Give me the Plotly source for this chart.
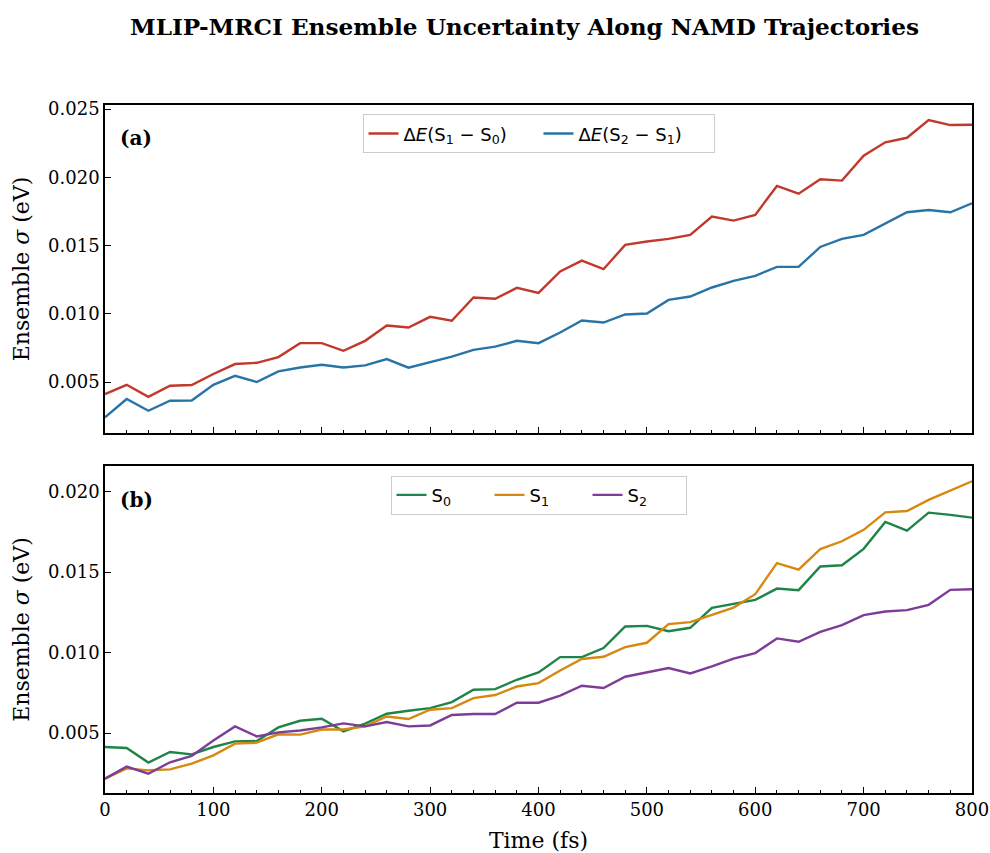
import plotly.graph_objects as go

time_fs = list(range(0, 801, 20))

dE_S1_S0 = [0.00412, 0.00480, 0.00392, 0.00473, 0.00478, 0.00559, 0.00632, 0.00641, 0.00683, 0.00785,
            0.00785, 0.00729, 0.00802, 0.00914, 0.00900, 0.00978, 0.00949, 0.01120, 0.01110, 0.01190,
            0.01153, 0.01310, 0.01390, 0.01327, 0.01505, 0.01530, 0.01549, 0.01578, 0.01712, 0.01683,
            0.01725, 0.01937, 0.01880, 0.01986, 0.01976, 0.02159, 0.02257, 0.02290, 0.02420, 0.02383,
            0.02385]
dE_S2_S1 = [0.00241, 0.00376, 0.00290, 0.00363, 0.00365, 0.00480, 0.00546, 0.00500, 0.00578, 0.00607,
            0.00627, 0.00607, 0.00622, 0.00668, 0.00605, 0.00646, 0.00687, 0.00736, 0.00760, 0.00802,
            0.00785, 0.00863, 0.00951, 0.00936, 0.00995, 0.01002, 0.01102, 0.01127, 0.01193, 0.01242,
            0.01278, 0.01344, 0.01344, 0.01490, 0.01549, 0.01578, 0.01664, 0.01744, 0.01761, 0.01744,
            0.01810]
S0 = [0.00413, 0.00407, 0.00316, 0.00382, 0.00367, 0.00413, 0.00448, 0.00450, 0.00535, 0.00576,
      0.00589, 0.00510, 0.00558, 0.00620, 0.00638, 0.00655, 0.00692, 0.00769, 0.00773, 0.00831,
      0.00877, 0.00972, 0.00972, 0.01028, 0.01162, 0.01166, 0.01133, 0.01154, 0.01278, 0.01303,
      0.01328, 0.01398, 0.01388, 0.01535, 0.01543, 0.01645, 0.01812, 0.01758, 0.01870, 0.01856,
      0.01839]
S1 = [0.00216, 0.00280, 0.00268, 0.00274, 0.00309, 0.00361, 0.00434, 0.00440, 0.00492, 0.00490,
      0.00522, 0.00522, 0.00541, 0.00603, 0.00587, 0.00645, 0.00655, 0.00717, 0.00736, 0.00789,
      0.00810, 0.00889, 0.00960, 0.00974, 0.01034, 0.01061, 0.01177, 0.01189, 0.01235, 0.01280,
      0.01363, 0.01556, 0.01516, 0.01643, 0.01692, 0.01763, 0.01872, 0.01880, 0.01949, 0.02007,
      0.02065]
S2 = [0.00216, 0.00291, 0.00247, 0.00318, 0.00357, 0.00454, 0.00541, 0.00479, 0.00504, 0.00516,
      0.00535, 0.00560, 0.00541, 0.00568, 0.00541, 0.00547, 0.00612, 0.00618, 0.00618, 0.00688,
      0.00688, 0.00732, 0.00794, 0.00780, 0.00850, 0.00876, 0.00904, 0.00870, 0.00914, 0.00963,
      0.00997, 0.01088, 0.01067, 0.01129, 0.01171, 0.01233, 0.01255, 0.01264, 0.01297, 0.01390,
      0.01394]

names_a = ["Δ<i>E</i>(S<sub>1</sub> − S<sub>0</sub>)", "Δ<i>E</i>(S<sub>2</sub> − S<sub>1</sub>)"]
names_b = ["S<sub>0</sub>", "S<sub>1</sub>", "S<sub>2</sub>"]
colors_a = ["#c0392b", "#2874a6"]
colors_b = ["#1e8449", "#d68910", "#7d3c98"]

SERIF = "DejaVu Serif"
SANS = "DejaVu Sans"

fig = go.Figure()
for ys, nm, c in zip([dE_S1_S0, dE_S2_S1], names_a, colors_a):
    fig.add_trace(go.Scatter(x=time_fs, y=ys, mode="lines", name=nm,
                             line=dict(color=c, width=2.4), xaxis="x", yaxis="y", legend="legend"))
for ys, nm, c in zip([S0, S1, S2], names_b, colors_b):
    fig.add_trace(go.Scatter(x=time_fs, y=ys, mode="lines", name=nm,
                             line=dict(color=c, width=2.4), xaxis="x2", yaxis="y2", legend="legend2"))

common_x = dict(range=[0, 800], dtick=100, tick0=0, ticks="inside", ticklen=6, tickwidth=1.3,
                tickcolor="black", showline=True, linecolor="black", linewidth=1.6, mirror=True,
                showgrid=False, zeroline=False, automargin=False,
                minor=dict(dtick=20, ticks="inside", ticklen=3.5, tickwidth=1, tickcolor="black"),
                tickfont=dict(family=SERIF, size=18, color="black"))
common_y = dict(dtick=0.005, tick0=0, tickformat=".3f", ticks="inside", ticklen=6, tickwidth=1.3,
                tickcolor="black", showline=True, linecolor="black", linewidth=1.6, mirror=True,
                showgrid=False, zeroline=False, automargin=False,
                tickfont=dict(family=SERIF, size=18, color="black"),
                title=dict(text="Ensemble <i>σ</i> (eV)", font=dict(family=SERIF, size=22, color="black"),
                           standoff=12))

legend_common = dict(x=0.5, xanchor="center", yanchor="top", orientation="h",
                     bgcolor="white", bordercolor="#cccccc", borderwidth=1,
                     font=dict(family=SANS, size=18, color="black"))

fig.update_layout(
    width=990, height=853,
    margin=dict(l=105, r=18, t=105, b=60),
    paper_bgcolor="white", plot_bgcolor="white",
    title=dict(text="<b>MLIP-MRCI Ensemble Uncertainty Along NAMD Trajectories</b>",
               font=dict(family=SERIF, size=23.2, color="black"),
               x=524.5 / 990, xref="container", xanchor="center",
               y=1 - 27 / 853, yref="container", yanchor="middle"),
    xaxis=dict(domain=[0, 1], anchor="y", matches="x2", showticklabels=False, **common_x),
    yaxis=dict(domain=[0.5233, 1], anchor="x", range=[0.00127, 0.0253], **common_y),
    xaxis2=dict(domain=[0, 1], anchor="y2",
                title=dict(text="Time (fs)", font=dict(family=SERIF, size=22, color="black"), standoff=14),
                **common_x),
    yaxis2=dict(domain=[0, 0.4753], anchor="x2", range=[0.00127, 0.0216], **common_y),
    legend=dict(y=0.9865, entrywidth=130, **legend_common),
    legend2=dict(y=0.4612, entrywidth=53, **legend_common),
    annotations=[
        dict(text="<b>(a)</b>", xref="x domain", yref="y domain", x=0.015, y=0.898,
             xanchor="left", yanchor="middle", showarrow=False,
             font=dict(family=SERIF, size=20, color="black")),
        dict(text="<b>(b)</b>", xref="x2 domain", yref="y2 domain", x=0.015, y=0.896,
             xanchor="left", yanchor="middle", showarrow=False,
             font=dict(family=SERIF, size=20, color="black")),
    ],
)

fig.write_html("out.html")
